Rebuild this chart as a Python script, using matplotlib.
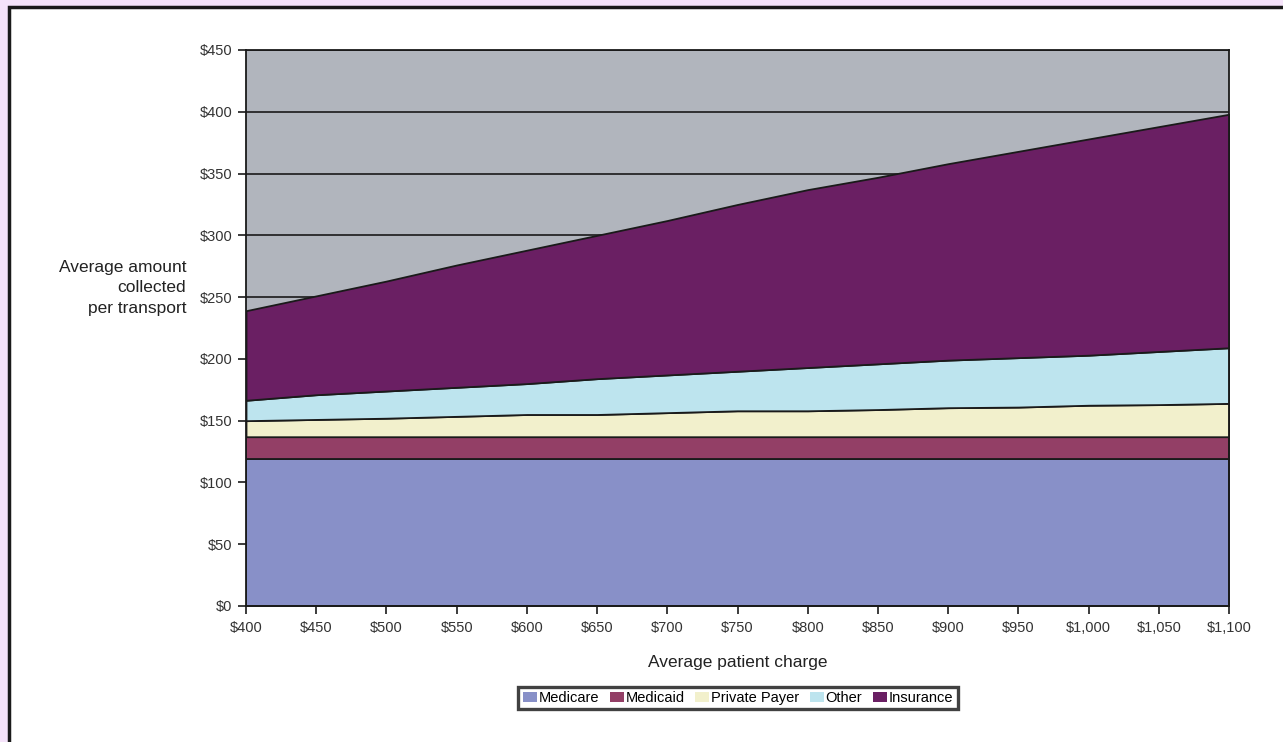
import numpy as np
import matplotlib
matplotlib.use("Agg")
import matplotlib.pyplot as plt
from matplotlib.patches import Rectangle
from matplotlib.ticker import FuncFormatter

plt.rcParams['font.family'] = ['Liberation Sans', 'DejaVu Sans']

#--------------------------------------------------Data------------------------------------------------#
charge = [400, 450, 500, 550, 600, 650, 700, 750, 800, 850, 900, 950, 1000, 1050, 1100]

medicare = [119] * 15
medicaid = [18] * 15
# cumulative tops
private_top = [150, 151, 152, 153.5, 155, 155, 156.5, 158, 158, 159, 160.5, 161, 162.5, 163, 164]
other_top = [166.5, 171, 174, 177, 180, 184, 187, 190, 193, 196, 199, 201, 203, 206, 209]
insurance_top = [239, 251, 263, 276, 288, 300, 312, 325, 337, 347, 358, 368, 378, 388, 398]

labels = ["Medicare", "Medicaid", "Private Payer", "Other", "Insurance"]
colors = ["#8890c8", "#933f66", "#f2f0cc", "#bde4ee", "#6a1f63"]

base = np.array(medicare) + np.array(medicaid)
private = np.array(private_top) - base
other = np.array(other_top) - np.array(private_top)
insurance = np.array(insurance_top) - np.array(other_top)

#--------------------------------------------------Figure------------------------------------------------#
fig = plt.figure(figsize=(12.83, 7.42), dpi=100)
fig.patch.set_facecolor("#f5e3fa")
border = Rectangle((9 / 1283, -0.05), 1.1, 1 - 5 / 742 + 0.05 - 0.003,
                   transform=fig.transFigure, facecolor="white",
                   edgecolor="#1a1a1a", linewidth=2.5, zorder=-10)
fig.add_artist(border)

ax = fig.add_axes([246 / 1283, 1 - 606 / 742, 983 / 1283, 556 / 742])
ax.set_zorder(1)
ax.set_facecolor("#b1b5bd")

stacks = ax.stackplot(charge, medicare, medicaid, private, other, insurance,
                      labels=labels, colors=colors, edgecolor="#1a1a1a",
                      linewidth=1.3, zorder=2)

ax.set_xlim(400, 1100)
ax.set_ylim(0, 450)
ax.set_xticks(range(400, 1101, 50))
ax.set_yticks(range(0, 451, 50))
money = FuncFormatter(lambda v, p: "${:,.0f}".format(v))
ax.xaxis.set_major_formatter(money)
ax.yaxis.set_major_formatter(money)
ax.tick_params(labelsize=10.5, length=6, width=1.2, colors="#1a1a1a", labelcolor="#333333")
ax.tick_params(axis="x", pad=5)
ax.tick_params(axis="y", pad=4)
ax.yaxis.grid(True, color="#1a1a1a", linewidth=1.2, zorder=1)
ax.set_axisbelow(True)
for s in ax.spines.values():
    s.set_color("#1a1a1a")
    s.set_linewidth(1.3)

ax.set_xlabel("Average patient charge", fontsize=12.5, color="#222222", labelpad=14)
fig.text(186 / 1283, 1 - 288 / 742, "Average amount\ncollected\nper transport",
         ha="right", va="center", fontsize=12.5, color="#222222", linespacing=1.45)

leg = ax.legend(loc="center", bbox_to_anchor=((738 - 246) / 983, (606 - 698) / 556),
                ncol=5, fontsize=10.5, frameon=True, fancybox=False,
                handlelength=0.95, handleheight=0.65, handletextpad=0.12,
                columnspacing=0.75, borderpad=0.3, borderaxespad=0)
leg.get_frame().set_edgecolor("#111111")
leg.get_frame().set_linewidth(2.4)
for h in leg.legend_handles:
    h.set_linewidth(0)

plt.savefig("out.png", dpi=100, facecolor=fig.get_facecolor())
